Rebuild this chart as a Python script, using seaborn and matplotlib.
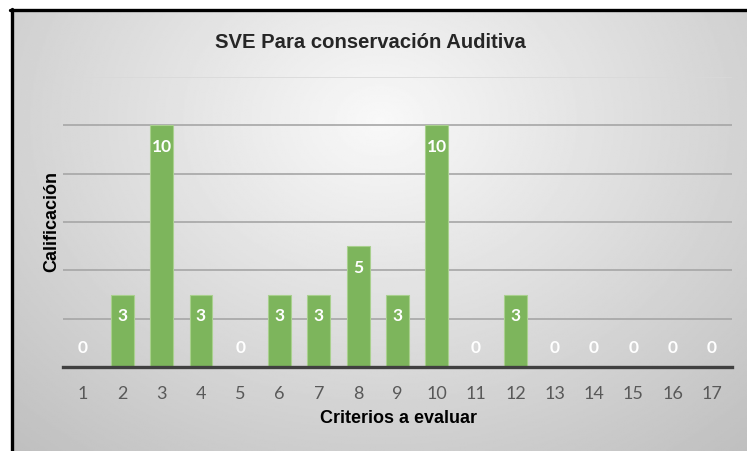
import numpy as np
import pandas as pd
import matplotlib
matplotlib.use("Agg")
import matplotlib.pyplot as plt
import seaborn as sns
from matplotlib.lines import Line2D

categories = [str(i) for i in range(1, 18)]
values = [0, 3, 10, 3, 0, 3, 3, 5, 3, 10, 0, 3, 0, 0, 0, 0, 0]
title = "SVE Para conservación Auditiva"
xlabel = "Criterios a evaluar"
ylabel = "Calificación"

sns.set_theme(style="white")
plt.rcParams['font.family'] = ['Lato', 'DejaVu Sans']

W, H = 747, 452
fig = plt.figure(figsize=(W / 100, H / 100), dpi=100)
fig.patch.set_facecolor("white")

# background gradient panel
bx0, by0 = 13 / W, 0
bw, bh = 1 - bx0, (H - 11) / H
bg = fig.add_axes([bx0, by0, bw, bh], zorder=0)
yy, xx = np.mgrid[0:1:300j, 0:1:500j]
r = np.sqrt(((xx - 0.5) * 1.0) ** 2 + ((yy - 0.25) * 0.75) ** 2)
img = 0.975 - 0.3 * r
img = np.clip(img, 0, 1)
bg.imshow(img, cmap="gray", vmin=0, vmax=1, aspect="auto", extent=[0, 1, 1, 0])
bg.set_axis_off()

# border lines (top and left)
fig.add_artist(Line2D([11.5 / W, 11.5 / W], [0, 1 - 9.5 / H], transform=fig.transFigure,
                      color="black", lw=2.4, zorder=5))
fig.add_artist(Line2D([10 / W, 1], [1 - 10.5 / H, 1 - 10.5 / H], transform=fig.transFigure,
                      color="black", lw=2.4, zorder=5))

AX_L, AX_R, AX_B, AX_T = 63.4, 731.6, 84, 374
ax = fig.add_axes([AX_L / W, AX_B / H, (AX_R - AX_L) / W, (AX_T - AX_B) / H], zorder=1)
ax.patch.set_alpha(0)

df = pd.DataFrame({"cat": categories, "val": values})
sns.barplot(data=df, x="cat", y="val", order=categories, color="#7db55c",
            saturation=1, width=0.58, edgecolor="#a9d08e", linewidth=0.8, ax=ax, zorder=3)

ax.set_ylim(0, 12)
ax.set_xlim(-0.5, len(categories) - 0.5)
ax.set_yticks([2, 4, 6, 8, 10, 12])
ax.set_yticklabels([])
ax.tick_params(axis="y", length=0)
ax.tick_params(axis="x", length=0, labelsize=13, colors="#595959", pad=13)
for y in [2, 4, 6, 8, 10]:
    ax.axhline(y, color="#a6a6a6", lw=1.2, zorder=1)
ax.axhline(12, color="#d9d9d9", lw=1.2, zorder=1)
for s in ["top", "right", "left"]:
    ax.spines[s].set_visible(False)
ax.spines["bottom"].set_color("#404040")
ax.spines["bottom"].set_linewidth(2.4)
ax.spines["bottom"].set_zorder(4)

for i, v in enumerate(values):
    off = -21 if v > 0 else 20
    ax.annotate(str(v), (i, v), xytext=(0, off), textcoords="offset pixels",
                ha="center", va="center", color="white", fontweight="bold",
                fontsize=12.5, zorder=5)

ax.set_xlabel(xlabel, fontsize=13, fontweight="bold", color="black",
              family=["Liberation Sans", "DejaVu Sans"])
ax.set_ylabel(ylabel, fontsize=13, fontweight="bold", color="black",
              family=["Liberation Sans", "DejaVu Sans"])
ax.xaxis.set_label_coords((398 - AX_L) / (AX_R - AX_L), ((H - 419) - AX_B) / (AX_T - AX_B))
ax.yaxis.set_label_coords((52 - AX_L) / (AX_R - AX_L), ((H - 222) - AX_B) / (AX_T - AX_B))
ax.xaxis.label.set_va("center")
ax.yaxis.label.set_va("center")

fig.text(370 / W, 1 - 42 / H, title, ha="center", va="center", fontsize=14.6,
         fontweight="bold", family=["Liberation Sans", "DejaVu Sans"])

fig.savefig("out.png", dpi=100)
